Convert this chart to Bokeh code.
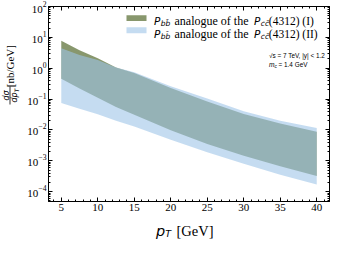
import math
from bokeh.plotting import figure
from bokeh.layouts import row, column
from bokeh.models import (Range1d, LinearAxis, FixedTicker, CustomLabelingPolicy,
                          CustomJSTickFormatter, Label, BoxAnnotation, ColumnDataSource)
from bokeh.embed import file_html
from bokeh.resources import INLINE

# ---- data ----
pt = [5, 7.5, 10, 12.5, 15, 20, 25, 30, 35, 40]
band1_upper = [7.7, 3.8, 2.1, 1.05, 0.70, 0.23, 0.083, 0.033, 0.0162, 0.0087]
band1_lower = [0.46, 0.22, 0.11, 0.055, 0.031, 0.0098, 0.0035, 0.00145, 0.00066, 0.00032]
band2_upper = [4.4, 2.7, 1.85, 1.05, 0.74, 0.26, 0.105, 0.040, 0.020, 0.0115]
band2_lower = [0.074, 0.049, 0.032, 0.020, 0.013, 0.0048, 0.0019, 0.00080, 0.00035, 0.00017]

x_ticks = [5, 10, 15, 20, 25, 30, 35, 40]
y_ticks = [1e-4, 1e-3, 1e-2, 1e-1, 1e0, 1e1, 1e2]
y_minor = [m * 10.0 ** e for e in range(-5, 2) for m in range(2, 10)]

green = "#556b2f"
blue = "#9fc4e8"

src = ColumnDataSource(dict(pt=pt, u1=band1_upper, l1=band1_lower, u2=band2_upper, l2=band2_lower))

MAIN_W, MAIN_H = 307, 216
YL_W = 24
XL_H = 23

p = figure(width=MAIN_W, height=MAIN_H, y_axis_type="log", output_backend="svg",
           toolbar_location=None, x_range=Range1d(3.25, 41.75), y_range=Range1d(4.8e-5, 1e2))
p.min_border_left = 20
p.min_border_right = 2
p.min_border_top = 6
p.min_border_bottom = 15
p.grid.visible = False
p.outline_line_color = "black"
p.outline_line_width = 1
p.background_fill_color = "white"
p.border_fill_color = "white"

p.varea(x="pt", y1="l1", y2="u1", source=src, fill_color=green, fill_alpha=0.7)
p.varea(x="pt", y1="l2", y2="u2", source=src, fill_color=blue, fill_alpha=0.6)

tick_font = "Liberation Serif"
hide_all = CustomLabelingPolicy(code="""
for (const i of Array.from(indices)) indices.unset(i)
return indices
""")
empty_fmt = CustomJSTickFormatter(code="return ''")

def style_axis(ax, show_labels=True):
    ax.major_tick_in = 4
    ax.major_tick_out = 0
    ax.minor_tick_in = 2
    ax.minor_tick_out = 0
    ax.axis_line_color = "black"
    ax.major_tick_line_color = "black"
    ax.minor_tick_line_color = "black"
    ax.major_label_text_font = tick_font
    ax.major_label_text_color = "black"
    if show_labels:
        ax.major_label_text_font_size = "11px"
        ax.major_label_standoff = 2
    else:
        ax.major_label_text_font_size = "1px"
        ax.major_label_standoff = 0
        ax.major_label_policy = hide_all
        ax.formatter = empty_fmt

p.xaxis.ticker = FixedTicker(ticks=x_ticks, minor_ticks=list(range(4, 42)))
p.yaxis.ticker = FixedTicker(ticks=y_ticks, minor_ticks=y_minor)
for ax in p.xaxis:
    style_axis(ax)
for ax in p.yaxis:
    style_axis(ax)

top = LinearAxis(ticker=FixedTicker(ticks=x_ticks, minor_ticks=list(range(4, 42))))
style_axis(top, False)
p.add_layout(top, "above")
right = LinearAxis(ticker=FixedTicker(ticks=y_ticks, minor_ticks=y_minor))
style_axis(right, False)
p.add_layout(right, "right")


def blank(w, h):
    f = figure(width=w, height=h, output_backend="svg", toolbar_location=None,
               x_axis_type=None, y_axis_type=None, x_range=Range1d(0, 1), y_range=Range1d(0, 1))
    f.min_border_left = 0
    f.min_border_right = 0
    f.min_border_top = 0
    f.min_border_bottom = 0
    f.outline_line_color = None
    f.grid.visible = False
    f.background_fill_color = "white"
    f.border_fill_color = "white"
    return f


yl = blank(YL_W, MAIN_H)
xl = blank(YL_W + MAIN_W, XL_H)


def lab(fig, text, x, y, size, font="Liberation Serif", style="normal", angle=0.0,
        align="left", baseline="alphabetic"):
    fig.add_layout(Label(text=text, x=x, y=y, x_units="screen", y_units="screen",
                         text_font=font, text_font_size=size, text_font_style=style,
                         text_color="black", angle=angle, text_align=align,
                         text_baseline=baseline))


def box(fig, l, r, b, t, color, alpha):
    fig.add_layout(BoxAnnotation(left=l, right=r, bottom=b, top=t,
                                 left_units="screen", right_units="screen",
                                 bottom_units="screen", top_units="screen",
                                 fill_color=color, fill_alpha=alpha, line_color=None))

# ---- legend (frame-relative screen coords) ----
box(p, 78, 98, 180.4, 186.3, green, 0.7)
box(p, 78, 98, 168.3, 174.3, blue, 0.6)
for yb, suffix in [(180.2, "(4312) (I)"), (168.0, "(4312) (II)")]:
    lab(p, "P", 105.5, yb, "10.5px", font="DejaVu Sans", style="italic")
    lab(p, "bb\u0304", 112.3, yb - 2.5, "7.5px", font="DejaVu Sans", style="italic")
    lab(p, "analogue of the", 126.0, yb, "12px")
    lab(p, "P", 205.5, yb, "10.5px", font="DejaVu Sans", style="italic")
    lab(p, "cc\u0304", 212.3, yb - 2.5, "7.5px", font="DejaVu Sans", style="italic")
    lab(p, suffix, 220.3, yb, "11.5px")

# ---- annotation ----
lab(p, "\u221as = 7 TeV, |y| < 1.2", 220.5, 145.8, "6.4px", font="Liberation Sans")
lab(p, "m", 220.5, 136.7, "6.6px", font="Liberation Sans", style="italic")
lab(p, "c", 226.0, 135.2, "4.8px", font="Liberation Sans", style="italic")
lab(p, "= 1.4 GeV", 230.0, 136.7, "6.4px", font="Liberation Sans")

# ---- x axis label ----
lab(xl, "p", 155.6, 9, "14.5px", font="DejaVu Sans", style="italic")
lab(xl, "T", 164.8, 6, "9.5px", font="DejaVu Sans", style="italic")
lab(xl, "[GeV]", 176.0, 9, "14.5px")

# ---- y axis label (rotated) ----
rot = math.pi / 2
lab(yl, "[nb/GeV]", 9.5, 135.3, "11px", angle=rot, align="center", baseline="middle")
lab(yl, "d\u03c3", 5.5, 106.1, "8px", font="DejaVu Sans", style="italic", angle=rot,
    align="center", baseline="middle")
lab(yl, "dp", 13.5, 104.1, "8px", font="DejaVu Sans", style="italic", angle=rot,
    align="center", baseline="middle")
lab(yl, "T", 16.0, 111.1, "6px", font="DejaVu Sans", style="italic", angle=rot,
    align="center", baseline="middle")
box(yl, 9.1, 9.9, 97.1, 115.1, "black", 1.0)

layout = column(row(yl, p, spacing=0), xl, spacing=0)
open("out.html", "w").write(file_html(layout, INLINE))
